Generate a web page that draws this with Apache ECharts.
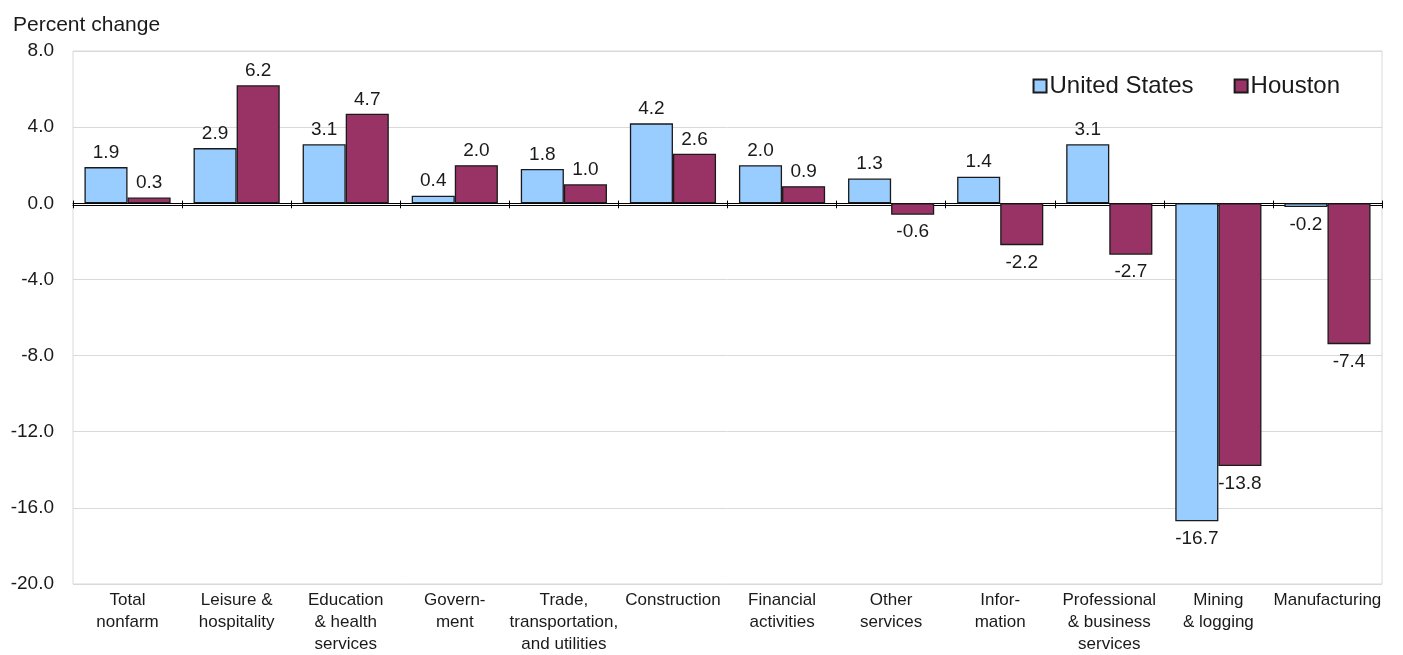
<!DOCTYPE html>
<html><head><meta charset="utf-8">
<script src="https://cdn.jsdelivr.net/npm/echarts@6/dist/echarts.min.js"></script>
<style>html,body{margin:0;padding:0;background:#fff}#c{width:1403px;height:655px}</style>
</head><body><div id="c"></div>
<script>
const categories = ["Total\nnonfarm","Leisure &\nhospitality","Education\n& health\nservices","Govern-\nment","Trade,\ntransportation,\nand utilities","Construction","Financial\nactivities","Other\nservices","Infor-\nmation","Professional\n& business\nservices","Mining\n& logging","Manufacturing"];
const usValues = [1.9, 2.9, 3.1, 0.4, 1.8, 4.2, 2.0, 1.3, 1.4, 3.1, -16.7, -0.2];
const houstonValues = [0.3, 6.2, 4.7, 2.0, 1.0, 2.6, 0.9, -0.6, -2.2, -2.7, -13.8, -7.4];
const seriesNames = ["United States", "Houston"];
const yMin = -20, yMax = 8, yStep = 4;

const font = "Liberation Sans, Arial, sans-serif";
function lab(v){ return { value: v, label: { position: v >= 0 ? 'top' : 'bottom', distance: v >= 0 ? 5 : 8 } }; }
const chart = echarts.init(document.getElementById('c'));
const labelCommon = { show: true, fontFamily: font, fontSize: 19, color: '#1a1a1a', formatter: p => p.value.toFixed(1) };
const gridBox = { left: 73, right: 21, top: 51, bottom: 63 };
chart.setOption({
  animation: false,
  textStyle: { fontFamily: font },
  title: { text: 'Percent change', left: 8, top: 10, textStyle: { fontFamily: font, fontSize: 21, fontWeight: 'normal', color: '#1a1a1a' } },
  legend: {
    data: seriesNames, right: 58, top: 69, itemWidth: 13, itemHeight: 13, itemGap: 40,
    textStyle: { fontFamily: font, fontSize: 24, color: '#1a1a1a', padding: [0,0,0,-2] },
    icon: 'rect'
  },
  grid: [
    Object.assign({ show: true, borderColor: '#d9d9d9', borderWidth: 1 }, gridBox),
    Object.assign({ show: false }, gridBox)
  ],
  xAxis: [
    { type: 'category', gridIndex: 0, data: categories, position: 'bottom',
      axisLine: { show: true, onZero: true, lineStyle: { color: '#000', width: 1 } },
      axisTick: { show: true, length: 5, lineStyle: { color: '#000' } }, axisLabel: { show: false } },
    { type: 'category', gridIndex: 1, data: categories, position: 'bottom',
      axisLine: { show: true, onZero: true, lineStyle: { color: '#000', width: 1 } },
      axisTick: { show: true, inside: true, length: 5, lineStyle: { color: '#000' } }, axisLabel: { show: false } },
    { type: 'category', gridIndex: 0, data: categories, position: 'bottom', axisLine: { show: false, onZero: false }, axisTick: { show: false },
      axisLabel: { show: true, interval: 0, fontFamily: font, fontSize: 17, color: '#1a1a1a', lineHeight: 22, margin: 5 } }
  ],
  yAxis: [
    { type: 'value', gridIndex: 0, min: yMin, max: yMax, interval: yStep,
      axisLine: { show: false }, axisTick: { show: false },
      splitLine: { show: true, lineStyle: { color: '#d9d9d9', width: 1 } },
      axisLabel: { fontFamily: font, fontSize: 19, color: '#1a1a1a', margin: 19, formatter: v => v.toFixed(1) } },
    { type: 'value', gridIndex: 1, min: yMin, max: yMax, interval: yStep,
      axisLine: { show: false }, axisTick: { show: false }, splitLine: { show: false }, axisLabel: { show: false } }
  ],
  series: [
    { name: seriesNames[0], type: 'bar', xAxisIndex: 0, yAxisIndex: 0, barGap: '0%', barCategoryGap: '21%',
      data: usValues.map(lab), label: labelCommon,
      itemStyle: { color: '#99ccff', borderColor: '#1a1a1a', borderWidth: 1.3 } },
    { name: seriesNames[1], type: 'bar', xAxisIndex: 0, yAxisIndex: 0,
      data: houstonValues.map(lab), label: labelCommon,
      itemStyle: { color: '#993366', borderColor: '#1a1a1a', borderWidth: 1.3 } }
  ]
});
</script></body></html>
